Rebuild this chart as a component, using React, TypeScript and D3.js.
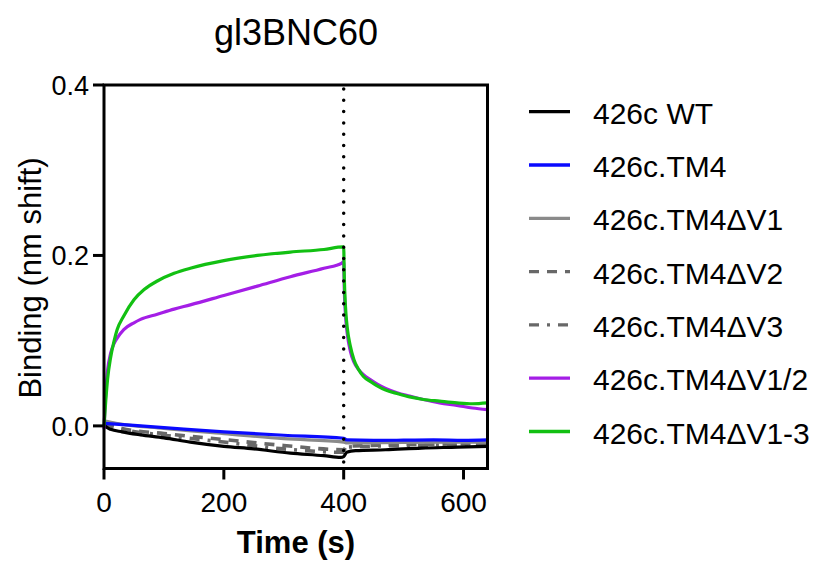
import React from "react";
import * as d3 from "d3";

// ---------- data ----------
const seriesNames = [
  "426c WT",
  "426c.TM4",
  "426c.TM4\u0394V1",
  "426c.TM4\u0394V2",
  "426c.TM4\u0394V3",
  "426c.TM4\u0394V1/2",
  "426c.TM4\u0394V1-3",
];

const wtT = [0, 5, 11, 30, 61, 100, 144, 200, 250, 311, 367, 395, 400, 405, 420, 470, 530, 590, 640];
const wtV = [0.002, -0.002, -0.004, -0.007, -0.0105, -0.014, -0.019, -0.024, -0.027, -0.032, -0.035, -0.037, -0.036, -0.031, -0.029, -0.028, -0.026, -0.025, -0.024];

const tm4T = [0, 50, 100, 200, 300, 400, 405, 450, 500, 550, 600, 640];
const tm4V = [0.003, 0.0005, -0.002, -0.007, -0.011, -0.0145, -0.0165, -0.017, -0.0168, -0.0165, -0.017, -0.0165];

const dv1T = [0, 20, 100, 200, 300, 400, 405, 500, 640];
const dv1V = [0.006, 0.003, -0.003, -0.009, -0.015, -0.019, -0.02, -0.0195, -0.019];

const dv2T = [0, 30, 100, 200, 300, 400, 405, 500, 640];
const dv2V = [0.003, -0.003, -0.009, -0.016, -0.023, -0.028, -0.024, -0.022, -0.021];

const dv3T = [0, 30, 100, 200, 300, 400, 405, 500, 640];
const dv3V = [0.002, -0.004, -0.011, -0.019, -0.027, -0.031, -0.025, -0.023, -0.022];

const dv12T = [0, 3, 6, 11, 17, 22, 33, 50, 61, 89, 117, 144, 200, 256, 311, 367, 397, 400, 401, 403, 406, 411, 417, 425, 433, 445, 456, 470, 489, 510, 533, 560, 589, 615, 640];
const dv12V = [-0.004, 0.04, 0.065, 0.085, 0.097, 0.103, 0.113, 0.121, 0.125, 0.131, 0.137, 0.142, 0.153, 0.164, 0.175, 0.185, 0.191, 0.193, 0.16, 0.13, 0.108, 0.088, 0.075, 0.066, 0.06, 0.054, 0.049, 0.044, 0.039, 0.035, 0.031, 0.027, 0.024, 0.021, 0.019];

const dv13T = [0, 3, 6, 11, 17, 22, 33, 50, 67, 89, 117, 144, 200, 256, 311, 367, 399, 400, 401, 403, 406, 411, 417, 425, 433, 445, 456, 470, 489, 510, 533, 560, 589, 615, 640];
const dv13V = [0, 0.03, 0.055, 0.08, 0.1, 0.113, 0.129, 0.148, 0.16, 0.17, 0.179, 0.185, 0.194, 0.2, 0.204, 0.207, 0.21, 0.21, 0.175, 0.14, 0.115, 0.094, 0.078, 0.066, 0.058, 0.052, 0.047, 0.042, 0.038, 0.034, 0.031, 0.029, 0.027, 0.026, 0.027];

const xTicks = [0, 200, 400, 600];
const yTicks = [0.0, 0.2, 0.4];
const dissociationStart = 400;

// ---------- styles ----------
const colors = ["#000000", "#0a0aff", "#8a8a8a", "#686868", "#686868", "#a41ee6", "#12c012"];
const dashes = [null, null, null, "10,8", "10,8,3,8", null, null];
const widths = [3.2, 3.2, 3.2, 3.6, 3.6, 3.2, 3.2];

const FONT = "'Liberation Sans', Arial, Helvetica, sans-serif";

export default function App() {
  const W = 822;
  const H = 561;
  const x = d3.scaleLinear().domain([0, 640]).range([104, 487.5]);
  const y = d3.scaleLinear().domain([-0.05, 0.4]).range([468.5, 85]);

  const seriesT = [wtT, tm4T, dv1T, dv2T, dv3T, dv12T, dv13T];
  const seriesV = [wtV, tm4V, dv1V, dv2V, dv3V, dv12V, dv13V];

  const line = d3
    .line<[number, number]>()
    .x((d) => x(d[0]))
    .y((d) => y(d[1]))
    .curve(d3.curveMonotoneX);

  const drawOrder = [4, 3, 2, 0, 1, 5, 6];

  const legendY0 = 111.7;
  const legendStep = 53.3;

  return (
    <svg
      width={W}
      height={H}
      viewBox={`0 0 ${W} ${H}`}
      style={{ position: "absolute", left: 0, top: 0, background: "#fff" }}
      fontFamily={FONT}
    >
      {/* title */}
      <text x={296} y={45} fontSize={36} textAnchor="middle" fill="#000">
        gl3BNC60
      </text>

      {/* series */}
      {drawOrder.map((i) => {
        const pts: [number, number][] = seriesT[i].map((t, k) => [t, seriesV[i][k]]);
        return (
          <path
            key={i}
            d={line(pts) || ""}
            fill="none"
            stroke={colors[i]}
            strokeWidth={widths[i]}
            strokeDasharray={dashes[i] || undefined}
            strokeLinejoin="round"
          />
        );
      })}

      {/* dotted vertical line */}
      <line
        x1={x(dissociationStart)}
        x2={x(dissociationStart)}
        y1={y(0.4) + 4}
        y2={y(-0.05)}
        stroke="#000"
        strokeWidth={3.5}
        strokeLinecap="round"
        strokeDasharray="0,11.3"
      />

      {/* frame */}
      <rect
        x={x(0)}
        y={y(0.4)}
        width={x(640) - x(0)}
        height={y(-0.05) - y(0.4)}
        fill="none"
        stroke="#000"
        strokeWidth={3}
      />

      {/* y ticks */}
      {yTicks.map((v) => (
        <g key={"y" + v}>
          <line x1={x(0) - 11} x2={x(0)} y1={y(v)} y2={y(v)} stroke="#000" strokeWidth={3} />
          <text x={89} y={y(v) + 9.7} fontSize={27} textAnchor="end" fill="#000">
            {v.toFixed(1)}
          </text>
        </g>
      ))}

      {/* x ticks */}
      {xTicks.map((t) => (
        <g key={"x" + t}>
          <line x1={x(t)} x2={x(t)} y1={y(-0.05)} y2={y(-0.05) + 11} stroke="#000" strokeWidth={3} />
          <text x={x(t)} y={511.7} fontSize={28} textAnchor="middle" fill="#000">
            {t}
          </text>
        </g>
      ))}

      {/* axis titles */}
      <text x={296} y={553} fontSize={31} fontWeight="bold" textAnchor="middle" fill="#000">
        Time (s)
      </text>
      <text
        transform={`translate(41,${278}) rotate(-90)`}
        fontSize={31}
        textAnchor="middle"
        fill="#000"
      >
        Binding (nm shift)
      </text>

      {/* legend */}
      {seriesNames.map((name, i) => {
        const ly = legendY0 + i * legendStep;
        return (
          <g key={name}>
            <line
              x1={529}
              x2={570}
              y1={ly}
              y2={ly}
              stroke={colors[i]}
              strokeWidth={3.3}
              strokeDasharray={dashes[i] || undefined}
            />
            <text x={593} y={ly + 12} fontSize={30} fill="#000">
              {name}
            </text>
          </g>
        );
      })}
    </svg>
  );
}
